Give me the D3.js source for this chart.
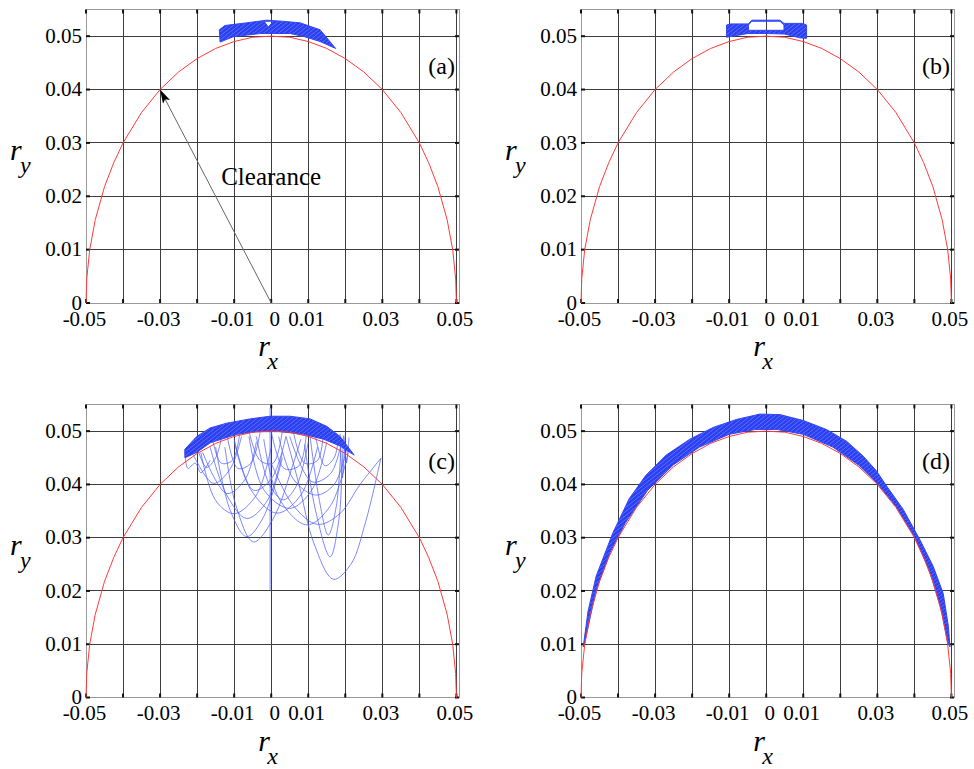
<!DOCTYPE html>
<html>
<head>
<meta charset="utf-8">
<script src="https://cdn.jsdelivr.net/npm/d3@7"></script>
<style>
body { margin: 0; background: #fff; }
text { font-family: "Liberation Serif", "Times New Roman", serif; fill: #000; }
</style>
</head>
<body>
<svg id="fig" width="974" height="769"></svg>
<script>
// ---- data ----
const gridX = [-0.05, -0.04, -0.03, -0.02, -0.01, 0, 0.01, 0.02, 0.03, 0.04, 0.05];
const gridY = [0, 0.01, 0.02, 0.03, 0.04, 0.05];
const xLabels = [-0.05, -0.03, -0.01, 0, 0.01, 0.03, 0.05];
const yLabels = [0, 0.01, 0.02, 0.03, 0.04, 0.05];

// clearance circle (red)
const clearance = [
  [-0.05, 0], [-0.0498, 0.0045], [-0.049, 0.0100], [-0.0475, 0.0156], [-0.045, 0.0218],
  [-0.0425, 0.0263], [-0.04, 0.0300], [-0.035, 0.0357], [-0.03, 0.0400], [-0.025, 0.0433],
  [-0.02, 0.0458], [-0.015, 0.0477], [-0.01, 0.0490], [-0.005, 0.0498], [0, 0.0500],
  [0.005, 0.0498], [0.01, 0.0490], [0.015, 0.0477], [0.02, 0.0458], [0.025, 0.0433],
  [0.03, 0.0400], [0.035, 0.0357], [0.04, 0.0300], [0.0425, 0.0263], [0.045, 0.0218],
  [0.0475, 0.0156], [0.049, 0.0100], [0.0498, 0.0045], [0.05, 0]
];

// (a) orbit band
const bandA = [
  [-0.0138, 0.0489], [-0.0140, 0.0512], [-0.0125, 0.0520], [-0.0066, 0.0525], [-0.0012, 0.0530],
  [0.0030, 0.0528], [0.0078, 0.0525], [0.0132, 0.0512], [0.0174, 0.0477], [0.0132, 0.0490],
  [0.0090, 0.0499], [0.0051, 0.0505], [-0.0030, 0.0505], [-0.0102, 0.0499]
];
const holeA = [[-0.0019, 0.0528], [0.0006, 0.0528], [-0.0008, 0.0517]];

// (b) orbit band
const bandB = [
  [-0.0107, 0.0498], [-0.0107, 0.0521], [-0.0096, 0.0523], [-0.0048, 0.0523], [-0.0039, 0.0530],
  [0.0037, 0.0530], [0.0048, 0.0524], [0.0097, 0.0524], [0.0109, 0.0521], [0.0109, 0.0496],
  [0.0090, 0.0497], [0.0050, 0.0504], [0.0000, 0.0505], [-0.0050, 0.0505], [-0.0090, 0.0500]
];
const holeB = [
  [-0.0048, 0.0511], [-0.0048, 0.0521], [-0.0039, 0.0528], [0.0037, 0.0528], [0.0048, 0.0521], [0.0048, 0.0511]
];

// (c) dense part of the orbit plus the loose loops
const bandC = [
  [-0.0233, 0.0466], [-0.0201, 0.0490], [-0.0165, 0.0506], [-0.0120, 0.0515], [-0.0057, 0.0523],
  [-0.0003, 0.0528], [0.0051, 0.0528], [0.0105, 0.0523], [0.0150, 0.0509], [0.0186, 0.0490],
  [0.0224, 0.0455], [0.0186, 0.0472], [0.0141, 0.0485], [0.0087, 0.0494], [0.0024, 0.0499],
  [-0.0039, 0.0499], [-0.0093, 0.0494], [-0.0165, 0.0478], [-0.0201, 0.0460], [-0.0233, 0.0450]
];
const loopsC = [
  [[0.0040, 0.0490], [0.0075, 0.0400], [0.0115, 0.0290], [0.0168, 0.0222], [0.0215, 0.0250], [0.0255, 0.0330], [0.0296, 0.0449]],
  [[0.0090, 0.0475], [0.0120, 0.0350], [0.0159, 0.0264], [0.0182, 0.0330], [0.0192, 0.0440], [0.0195, 0.0492]],
  [[0.0105, 0.0490], [0.0130, 0.0370], [0.0154, 0.0305], [0.0176, 0.0360], [0.0188, 0.0470]],
  [[-0.0020, 0.0485], [0.0020, 0.0375], [0.0096, 0.0324], [0.0160, 0.0360], [0.0208, 0.0460]],
  [[-0.0100, 0.0480], [-0.0055, 0.0390], [0.0015, 0.0346], [0.0080, 0.0380], [0.0125, 0.0470]],
  [[-0.0125, 0.0470], [-0.0095, 0.0360], [-0.0048, 0.0292], [0.0005, 0.0335], [0.0060, 0.0440], [0.0080, 0.0485]],
  [[-0.0165, 0.0470], [-0.0120, 0.0380], [-0.0066, 0.0336], [-0.0010, 0.0370], [0.0030, 0.0460]],
  [[-0.0150, 0.0470], [-0.0110, 0.0350], [-0.0066, 0.0302], [-0.0020, 0.0340], [0.0030, 0.0450]],
  [[-0.0040, 0.0490], [-0.0005, 0.0400], [0.0033, 0.0371], [0.0070, 0.0400], [0.0100, 0.0480]],
  [[-0.0185, 0.0460], [-0.0120, 0.0383], [-0.0070, 0.0410], [-0.0040, 0.0480]],
  [[-0.0210, 0.0455], [-0.0156, 0.0402], [-0.0110, 0.0430], [-0.0080, 0.0490]],
  [[-0.0100, 0.0485], [-0.0048, 0.0389], [0.0000, 0.0410], [0.0040, 0.0490]],
  [[0.0050, 0.0490], [0.0110, 0.0405], [0.0160, 0.0420], [0.0190, 0.0480]],
  [[0.0000, 0.0440], [0.0060, 0.0360], [0.0125, 0.0325], [0.0185, 0.0345], [0.0240, 0.0400], [0.0296, 0.0449]],
  [[-0.0190, 0.0460], [-0.0150, 0.0370], [-0.0100, 0.0345], [-0.0040, 0.0380], [0.0000, 0.0470]],
  [[-0.0060, 0.0490], [-0.0020, 0.0390], [0.0050, 0.0355], [0.0110, 0.0390], [0.0150, 0.0480]],
  [[0.0020, 0.0490], [0.0060, 0.0410], [0.0120, 0.0380], [0.0170, 0.0400], [0.0205, 0.0470]],
  [[-0.0200, 0.0470], [-0.0175, 0.0432], [-0.0150, 0.0450], [-0.0135, 0.0485]],
  [[-0.0160, 0.0490], [-0.0135, 0.0440], [-0.0105, 0.0445], [-0.0085, 0.0495]],
  [[-0.0120, 0.0495], [-0.0090, 0.0430], [-0.0055, 0.0440], [-0.0030, 0.0498]],
  [[-0.0060, 0.0500], [-0.0030, 0.0445], [0.0005, 0.0440], [0.0030, 0.0500]],
  [[0.0000, 0.0500], [0.0035, 0.0430], [0.0075, 0.0435], [0.0095, 0.0497]],
  [[0.0060, 0.0498], [0.0090, 0.0440], [0.0125, 0.0445], [0.0140, 0.0490]],
  [[0.0120, 0.0490], [0.0145, 0.0435], [0.0170, 0.0450], [0.0180, 0.0480]],
  [[-0.0233, 0.0465], [-0.0225, 0.0430], [-0.0205, 0.0440], [-0.0190, 0.0422], [-0.0165, 0.0445]],
  [[0.0186, 0.0495], [0.0192, 0.0412], [0.0200, 0.0495]],
  [[0.0196, 0.0490], [0.0203, 0.0440], [0.0210, 0.0488]],
  [[-0.0003, 0.0202], [-0.0003, 0.0543]]
];

// (d) orbit band: outer edge left to right, inner edge right to left
const outerD = [
  [-0.0494, 0.0095], [-0.0481, 0.0162], [-0.0459, 0.0228], [-0.0414, 0.0309], [-0.0370, 0.0373],
  [-0.0325, 0.0417], [-0.0270, 0.0455], [-0.0206, 0.0485], [-0.0143, 0.0507], [-0.0080, 0.0522],
  [-0.0017, 0.0532], [0.0037, 0.0531], [0.0100, 0.0520], [0.0163, 0.0503], [0.0217, 0.0481],
  [0.0262, 0.0453], [0.0298, 0.0425], [0.0325, 0.0397], [0.0370, 0.0353], [0.0415, 0.0296],
  [0.0451, 0.0246], [0.0478, 0.0195], [0.0492, 0.0133], [0.0496, 0.0095]
];
const innerD = [
  [0.0490, 0.0104], [0.0470, 0.0172], [0.0440, 0.0239], [0.0400, 0.0302], [0.0350, 0.0359],
  [0.0300, 0.0402], [0.0250, 0.0436], [0.0180, 0.0470], [0.0100, 0.0494], [0.0030, 0.0503],
  [-0.0030, 0.0503], [-0.0100, 0.0494], [-0.0180, 0.0470], [-0.0250, 0.0437], [-0.0320, 0.0389],
  [-0.0380, 0.0328], [-0.0420, 0.0275], [-0.0460, 0.0200], [-0.0490, 0.0102]
];

// ---- drawing ----
const svg = d3.select("#fig");
const fmt = d => d === 0 ? "0" : d.toFixed(2);
const defs = svg.append("defs");

defs.append("marker")
    .attr("id", "head")
    .attr("viewBox", "0 0 14 8")
    .attr("refX", 14).attr("refY", 4)
    .attr("markerWidth", 14).attr("markerHeight", 8)
    .attr("markerUnits", "userSpaceOnUse")
    .attr("orient", "auto")
  .append("path")
    .attr("d", "M0,0L14,4L0,8L3,4Z")
    .attr("fill", "#000");

// hatched fill so the dense orbit bands look like many overlapping passes
var pat = defs.append("pattern")
    .attr("id", "orbit")
    .attr("patternUnits", "userSpaceOnUse")
    .attr("width", 5).attr("height", 4);
pat.append("rect").attr("width", 5).attr("height", 4).attr("fill", "#2b40f3");
pat.append("path").attr("d", "M0,4L5,0").attr("stroke", "#7281fb").attr("stroke-width", 0.7);

const panels = [
  {tag: "(a)", left: 86,  right: 459, top: 9.5,   bottom: 303,   bands: [[bandA, holeA]], loops: [], arrow: true},
  {tag: "(b)", left: 581, right: 954, top: 9.5,   bottom: 303,   bands: [[bandB, holeB]], loops: []},
  {tag: "(c)", left: 86,  right: 459, top: 404.5, bottom: 697.5, bands: [[bandC]], loops: loopsC},
  {tag: "(d)", left: 581, right: 954, top: 404.5, bottom: 697.5, bands: [[outerD.concat(innerD)]], loops: []}
];

panels.forEach(drawPanel);

function drawPanel(p)
{
    var g = svg.append("g");
    var x = d3.scaleLinear().domain([-0.05, 0.0507]).range([p.left, p.right]);
    var y = d3.scaleLinear().domain([0, 0.055]).range([p.bottom, p.top]);
    var line = d3.line().x(d => x(d[0])).y(d => y(d[1]));

    // grid
    g.append("g").selectAll("line")
        .data(gridX).enter().append("line")
            .attr("x1", d => x(d)).attr("x2", d => x(d))
            .attr("y1", p.top).attr("y2", p.bottom)
            .attr("stroke", "#3d3d3d").attr("shape-rendering", "crispEdges");
    g.append("g").selectAll("line")
        .data(gridY.slice(1)).enter().append("line")
            .attr("x1", p.left).attr("x2", p.right)
            .attr("y1", d => y(d)).attr("y2", d => y(d))
            .attr("stroke", "#3d3d3d").attr("shape-rendering", "crispEdges");

    // box
    g.append("rect")
        .attr("x", p.left).attr("y", p.top)
        .attr("width", p.right - p.left).attr("height", p.bottom - p.top)
        .attr("fill", "none").attr("stroke", "#999").attr("shape-rendering", "crispEdges");

    // inward ticks on all four sides
    var tk = g.append("g").attr("stroke", "#111").attr("stroke-width", 2);
    gridX.forEach(function(d){
        tk.append("line").attr("x1", x(d)).attr("x2", x(d)).attr("y1", p.top).attr("y2", p.top + 4);
        tk.append("line").attr("x1", x(d)).attr("x2", x(d)).attr("y1", p.bottom).attr("y2", p.bottom - 4);
    });
    gridY.forEach(function(d){
        tk.append("line").attr("y1", y(d)).attr("y2", y(d)).attr("x1", p.left).attr("x2", p.left + 4);
        tk.append("line").attr("y1", y(d)).attr("y2", y(d)).attr("x1", p.right).attr("x2", p.right - 4);
    });

    // loose orbit loops
    var loopLine = d3.line().curve(d3.curveCatmullRom.alpha(0.5)).x(d => x(d[0])).y(d => y(d[1]));
    g.append("g").selectAll("path")
        .data(p.loops).enter().append("path")
            .attr("d", loopLine)
            .attr("fill", "none").attr("stroke", "#5060ff")
            .attr("stroke-width", 1).attr("stroke-opacity", 0.75);

    // dense orbit bands
    g.append("g").selectAll("path")
        .data(p.bands).enter().append("path")
            .attr("d", rings => rings.map(r => line(r) + "Z").join(""))
            .attr("fill-rule", "evenodd")
            .attr("fill", "url(#orbit)")
            .attr("stroke", "#3247f4").attr("stroke-width", 1);

    // clearance circle
    g.append("path")
        .datum(clearance)
        .attr("d", line)
        .attr("fill", "none").attr("stroke", "#ff3b3b").attr("stroke-width", 1);

    if( p.arrow )
    {
        g.append("line")
            .attr("x1", x(0)).attr("y1", y(0))
            .attr("x2", x(-0.03)).attr("y2", y(0.04))
            .attr("stroke", "#666").attr("stroke-width", 1)
            .attr("marker-end", "url(#head)");
        g.append("text")
            .attr("x", x(-0.0135)).attr("y", y(0.0221))
            .attr("font-size", 25)
            .text("Clearance");
    }

    // tick labels
    var ax = g.append("g")
        .attr("transform", "translate(0," + p.bottom + ")")
        .call(d3.axisBottom(x).tickValues(xLabels).tickFormat(fmt).tickSize(0).tickPadding(8));
    var ay = g.append("g")
        .attr("transform", "translate(" + p.left + ",0)")
        .call(d3.axisLeft(y).tickValues(yLabels).tickFormat(fmt).tickSize(0).tickPadding(4));
    [ax, ay].forEach(function(a){
        a.select(".domain").remove();
        a.selectAll("text")
            .attr("font-family", "Liberation Serif, Times New Roman, serif")
            .attr("font-size", 21).attr("fill", "#000");
    });
    ax.selectAll("text").attr("dx", d => d === 0 ? 3 : -2);
    ay.selectAll("text").attr("dy", "0.3em");

    // axis titles
    g.append("text").attr("x", p.left - 76).attr("y", p.top + 150.5)
        .attr("font-size", 30).attr("font-style", "italic").text("r");
    g.append("text").attr("x", p.left - 66).attr("y", p.top + 163.5)
        .attr("font-size", 24).attr("font-style", "italic").text("y");
    g.append("text").attr("x", x(0) - 13).attr("y", p.bottom + 53)
        .attr("font-size", 30).attr("font-style", "italic").text("r");
    g.append("text").attr("x", x(0) - 4).attr("y", p.bottom + 66)
        .attr("font-size", 24).attr("font-style", "italic").text("x");

    // panel tag
    g.append("text")
        .attr("x", p.right - 4).attr("y", p.top + 64)
        .attr("text-anchor", "end").attr("font-size", 24)
        .text(p.tag);
}
</script>
</body>
</html>
